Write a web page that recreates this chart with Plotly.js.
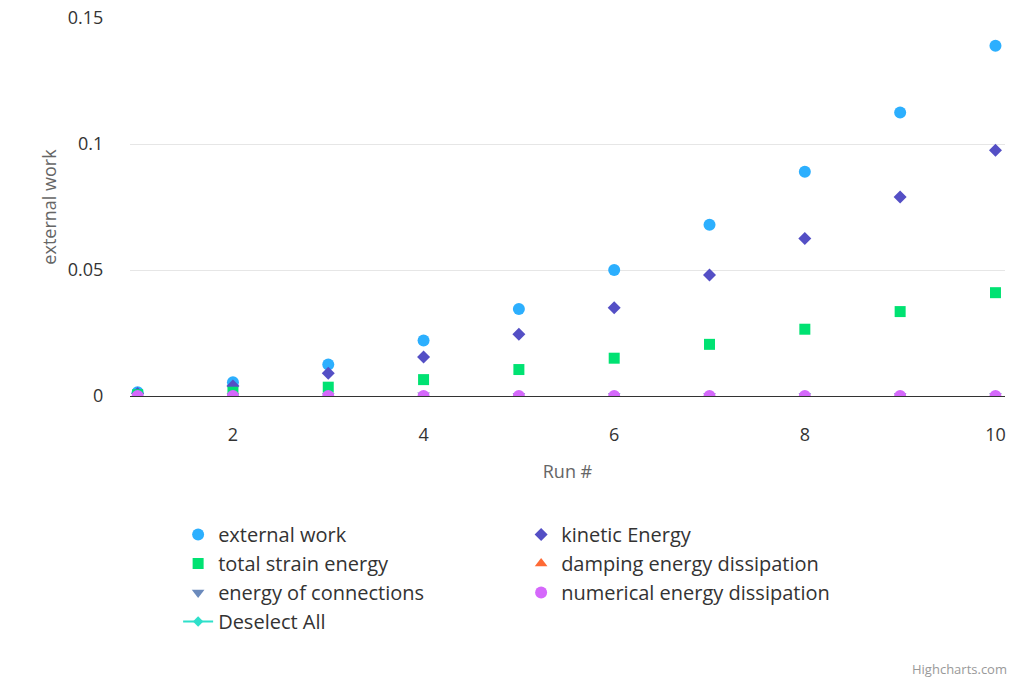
<!DOCTYPE html>
<html><head><meta charset="utf-8">
<script src="https://cdn.plot.ly/plotly-3.0.1.min.js"></script>
<style>body{margin:0}#chart{width:1024px;height:683px}</style>
</head><body><div id="chart"></div>
<script>
const runs = [1, 2, 3, 4, 5, 6, 7, 8, 9, 10];
const externalWork = [0.0015, 0.0055, 0.0125, 0.022, 0.0345, 0.050, 0.068, 0.089, 0.1125, 0.139];
const kineticEnergy = [0.001, 0.004, 0.009, 0.0155, 0.0245, 0.035, 0.048, 0.0625, 0.079, 0.0975];
const strainEnergy = [0.0005, 0.0015, 0.0035, 0.0065, 0.0105, 0.015, 0.0205, 0.0265, 0.0335, 0.041];
const dampingEnergy = [0, 0, 0, 0, 0, 0, 0, 0, 0, 0];
const connectionEnergy = [0, 0, 0, 0.0003, 0, 0, 0, 0, 0, 0];
const numericalEnergy = [0, 0, 0, 0, 0, 0, 0, 0, 0, 0];

function series(name, y, symbol, color, size) {
  return {x: runs, y: y, name: name, type: 'scatter', mode: 'markers',
    marker: {symbol: symbol, color: color, size: size}};
}
const data = [
  series('external work', externalWork, 'circle', '#2caffe', 12),
  series('kinetic Energy', kineticEnergy, 'diamond', '#544fc5', 10),
  series('total strain energy', strainEnergy, 'square', '#00e272', 11),
  series('damping energy dissipation', dampingEnergy, 'triangle-up', '#fe6a35', 11),
  series('energy of connections', connectionEnergy, 'triangle-down', '#6b8abc', 11),
  series('numerical energy dissipation', numericalEnergy, 'circle', '#d568fb', 12),
  {x: [null], y: [null], name: 'Deselect All', type: 'scatter', mode: 'lines+markers',
    line: {color: '#2ee0ca', width: 2}, marker: {symbol: 'diamond', color: '#2ee0ca', size: 8}}
];

const layout = {
  width: 1024, height: 683,
  margin: {l: 130, r: 19, t: 18, b: 287},
  font: {family: 'Open Sans, sans-serif', color: '#333'},
  plot_bgcolor: '#fff', paper_bgcolor: '#fff',
  xaxis: {range: [0.92, 10.1], tickvals: [2, 4, 6, 8, 10], showgrid: false, zeroline: false,
    showline: false, ticks: 'outside', ticklen: 22, tickcolor: '#fff', tickfont: {size: 18, color: '#333'},
    title: {text: 'Run #', font: {size: 18, color: '#666'}, standoff: 20}},
  yaxis: {range: [0, 0.15], tickvals: [0, 0.05, 0.1, 0.15], ticktext: ['0', '0.05', '0.1', '0.15'],
    gridcolor: '#e6e6e6', zeroline: true, zerolinecolor: '#333', zerolinewidth: 1,
    tickfont: {size: 18, color: '#333'}, ticks: 'outside', tickcolor: '#fff', ticklen: 22,
    title: {text: 'external work', font: {size: 18, color: '#666'}, standoff: 6}},
  legend: {orientation: 'h', x: 0.055, xanchor: 'left', y: -0.315, yanchor: 'top',
    entrywidth: 298, font: {size: 20, color: '#333'}},
  showlegend: true,
  annotations: [{text: 'Highcharts.com', xref: 'paper', yref: 'paper', x: 1.005, y: -0.75,
    xanchor: 'right', yanchor: 'bottom', showarrow: false, font: {size: 13, color: '#999'}}]
};
Plotly.newPlot('chart', data, layout, {displayModeBar: false});
</script></body></html>
